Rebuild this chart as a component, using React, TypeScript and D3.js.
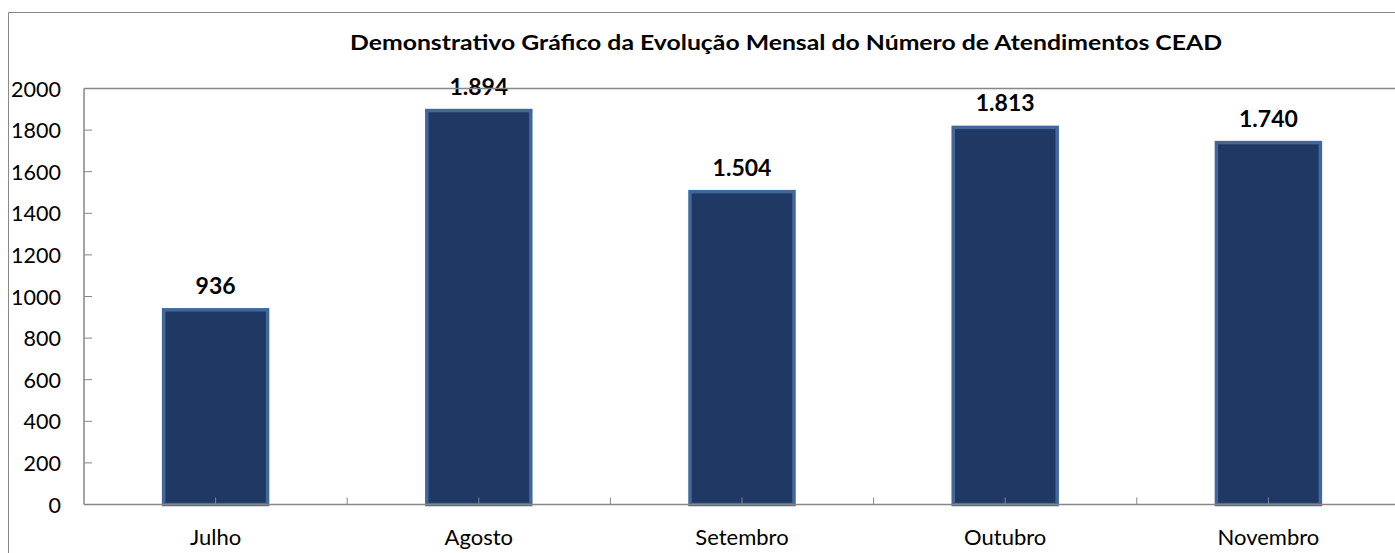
import * as d3 from "d3";
import React from "react";

// dados do gráfico
const meses = ["Julho", "Agosto", "Setembro", "Outubro", "Novembro"];
const atendimentos = [936, 1894, 1504, 1813, 1740];
const titulo =
  "Demonstrativo Gráfico da Evolução Mensal do Número de Atendimentos CEAD";

const W = 1395;
const H = 553;
const left = 84;
const top = 88.5;
const bottom = 504.5;
const right = 1400;

const fmt = d3.formatLocale({
  decimal: ",",
  thousands: ".",
  grouping: [3],
  currency: ["R$", ""],
}).format(",d");

export default function App() {
  const x = d3.scaleBand().domain(meses).range([left, right]).padding(0);
  const y = d3.scaleLinear().domain([0, 2000]).range([bottom, top]);
  const barW = x.bandwidth() * 0.395;
  const font = "Lato, 'Open Sans', sans-serif";

  // marcas do eixo x: centro e limite de cada categoria
  const xTicks: number[] = [];
  meses.forEach((m) => {
    xTicks.push(x(m)! + x.bandwidth() / 2);
    xTicks.push(x(m)! + x.bandwidth());
  });

  return (
    <svg
      width={W}
      height={H}
      style={{ position: "absolute", left: 0, top: 0, background: "#fff" }}
    >
      {/* moldura externa */}
      <path d={`M8.5,${H} V12.5 H${W}`} fill="none" stroke="#888" strokeWidth={1} />

      <text
        x={786}
        y={50}
        textAnchor="middle"
        fontFamily={font}
        fontWeight="bold"
        fontSize={20}
        textLength={872}
        lengthAdjust="spacingAndGlyphs"
        fill="#000"
      >
        {titulo}
      </text>

      {/* eixo y */}
      {y.ticks(10).map((t) => (
        <g key={t}>
          <line x1={left} x2={left + 8} y1={y(t)} y2={y(t)} stroke="#868686" />
          <text
            x={61}
            y={y(t) + 8}
            textAnchor="end"
            fontFamily={font}
            fontSize={21.5}
            fill="#000"
          >
            {t}
          </text>
        </g>
      ))}

      {/* barras */}
      {meses.map((m, i) => {
        const cx = x(m)! + x.bandwidth() / 2;
        const v = atendimentos[i];
        return (
          <g key={m}>
            <rect
              x={cx - barW / 2}
              y={y(v)}
              width={barW}
              height={bottom - y(v)}
              fill="#203864"
              stroke="#41679b"
              strokeWidth={3.5}
            />
            <text
              x={cx}
              y={y(v) - 16}
              textAnchor="middle"
              fontFamily={font}
              fontWeight="bold"
              fontSize={23}
              fill="#000"
            >
              {fmt(v)}
            </text>
            <text
              x={cx}
              y={545}
              textAnchor="middle"
              fontFamily={font}
              fontSize={22}
              fill="#000"
            >
              {m}
            </text>
          </g>
        );
      })}

      {/* eixos e borda da área de plotagem */}
      <line x1={left} x2={W} y1={top} y2={top} stroke="#868686" strokeWidth={1.5} />
      <line x1={left} x2={left} y1={top} y2={bottom} stroke="#868686" strokeWidth={1.5} />
      <line x1={left} x2={W} y1={bottom} y2={bottom} stroke="#868686" strokeWidth={1.5} />
      {xTicks.map((t, i) => (
        <line key={i} x1={t} x2={t} y1={bottom} y2={bottom - 7} stroke="#868686" />
      ))}
    </svg>
  );
}
